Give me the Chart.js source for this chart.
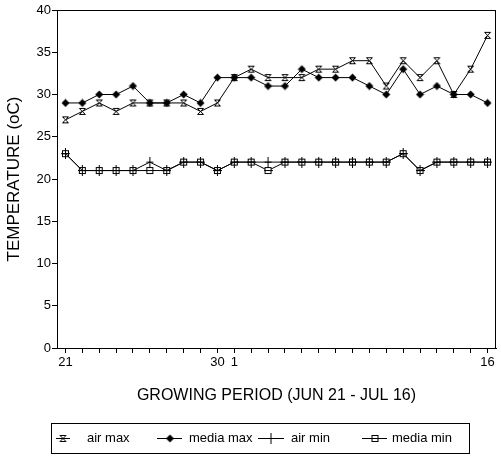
<!DOCTYPE html>
<html>
<head>
<meta charset="utf-8">
<script src="https://cdn.jsdelivr.net/npm/chart.js@4/dist/chart.umd.min.js"></script>
<style>
  html, body { margin: 0; padding: 0; background: #fff; }
  #wrap { position: relative; width: 501px; height: 457px; }
</style>
</head>
<body>
<div id="wrap"><canvas id="chart"></canvas></div>
<script>
// growing period Jun 21 - Jul 16
const days = ['21','22','23','24','25','26','27','28','29','30',
  '1','2','3','4','5','6','7','8','9','10','11','12','13','14','15','16'];
const shownDays = [0, 9, 10, 25];

const airMax   = [27,28,29,28,29,29,29,29,28,29,32,33,32,32,32,33,33,34,34,31,34,32,34,30,33,37];
const mediaMax = [29,29,30,30,31,29,29,30,29,32,32,32,31,31,33,32,32,32,31,30,33,30,31,30,30,29];
const airMin   = [23,21,21,21,21,22,21,22,22,21,22,22,22,22,22,22,22,22,22,22,23,21,22,22,22,22];
const mediaMin = [23,21,21,21,21,21,21,22,22,21,22,22,21,22,22,22,22,22,22,22,23,21,22,22,22,22];

const yTicks = [0, 5, 10, 15, 20, 25, 30, 35, 40];

const FONT = "'Liberation Sans', Arial, sans-serif";

function marker(w, h, draw) {
  const c = document.createElement('canvas');
  c.width = w; c.height = h;
  const g = c.getContext('2d');
  g.strokeStyle = '#000';
  g.fillStyle = '#000';
  g.lineWidth = 1;
  draw(g);
  return c;
}

// hourglass
const mkAirMax = marker(9, 9, g => {
  g.beginPath();
  g.moveTo(1.5, 1.5); g.lineTo(7.5, 1.5);
  g.lineTo(1.5, 7.5); g.lineTo(7.5, 7.5);
  g.closePath();
  g.stroke();
});
// filled diamond
const mkMediaMax = marker(9, 9, g => {
  g.beginPath();
  g.moveTo(4.5, 0.5); g.lineTo(8.5, 4.5);
  g.lineTo(4.5, 8.5); g.lineTo(0.5, 4.5);
  g.closePath();
  g.fill();
});
// plus with long vertical
const mkAirMin = marker(9, 11, g => {
  g.beginPath();
  g.moveTo(4.5, 0); g.lineTo(4.5, 11);
  g.moveTo(1, 5.5); g.lineTo(8, 5.5);
  g.stroke();
});
// open square with line through
const mkMediaMin = marker(9, 9, g => {
  g.fillStyle = '#fff';
  g.fillRect(1.5, 1.5, 6, 6);
  g.strokeRect(1.5, 1.5, 6, 6);
  g.beginPath();
  g.moveTo(0, 4.5); g.lineTo(9, 4.5);
  g.stroke();
});

function series(label, data, style) {
  return {
    label: label,
    data: data,
    borderColor: '#000',
    borderWidth: 1,
    backgroundColor: '#000',
    pointStyle: style,
    pointRadius: 4,
    tension: 0,
    fill: false
  };
}

const legendItems = [
  { text: 'air max',   style: mkAirMax,   x1: 56,  x2: 70,  tx: 87 },
  { text: 'media max', style: mkMediaMax, x1: 157, x2: 182, tx: 189 },
  { text: 'air min',   style: mkAirMin,   x1: 258, x2: 284, tx: 291 },
  { text: 'media min', style: mkMediaMin, x1: 362, x2: 387, tx: 392 }
];

const boxAndLegend = {
  id: 'boxAndLegend',
  afterDraw(chart) {
    const ctx = chart.ctx;
    const a = chart.chartArea;
    ctx.save();
    ctx.strokeStyle = '#000';
    ctx.lineWidth = 1;
    ctx.strokeRect(Math.round(a.left) + 0.5, Math.round(a.top) + 0.5,
      Math.round(a.right - a.left) - 1, Math.round(a.bottom - a.top));

    // legend box
    ctx.strokeRect(51.5, 423.5, 418, 30);
    const ly = 438;
    ctx.font = '13px ' + FONT;
    ctx.fillStyle = '#000';
    ctx.textBaseline = 'middle';
    legendItems.forEach(it => {
      ctx.beginPath();
      ctx.moveTo(it.x1, ly + 0.5);
      ctx.lineTo(it.x2, ly + 0.5);
      ctx.stroke();
      const cx = Math.round((it.x1 + it.x2) / 2);
      ctx.drawImage(it.style, cx - it.style.width / 2, ly + 0.5 - it.style.height / 2);
      ctx.fillText(it.text, it.tx, ly);
    });
    ctx.restore();
  }
};

new Chart(document.getElementById('chart'), {
  type: 'line',
  data: {
    labels: days,
    datasets: [
      series('air max', airMax, mkAirMax),
      series('media max', mediaMax, mkMediaMax),
      series('air min', airMin, mkAirMin),
      series('media min', mediaMin, mkMediaMin)
    ]
  },
  options: {
    responsive: true,
    maintainAspectRatio: false,
    animation: false,
    layout: { padding: { left: 0, right: 2, top: 10, bottom: 48 } },
    plugins: {
      legend: { display: false },
      tooltip: { enabled: false }
    },
    scales: {
      x: {
        type: 'category',
        offset: true,
        grid: {
          display: true,
          drawOnChartArea: false,
          drawTicks: true,
          tickLength: 5,
          tickColor: '#000',
          offset: false
        },
        border: { display: true, color: '#000', width: 1 },
        ticks: {
          autoSkip: false,
          maxRotation: 0,
          padding: 2,
          color: '#000',
          font: { family: FONT, size: 13 },
          callback: (v, i) => shownDays.includes(i) ? days[i] : ''
        },
        title: {
          display: true,
          text: 'GROWING PERIOD (JUN 21 - JUL 16)',
          color: '#000',
          font: { family: FONT, size: 16 },
          padding: { top: 4, bottom: 4 }
        },
        afterFit: s => { s.height = 61; }
      },
      y: {
        min: 0,
        max: 40,
        grid: {
          display: true,
          drawOnChartArea: false,
          drawTicks: true,
          tickLength: 5,
          tickColor: '#000'
        },
        border: { display: true, color: '#000', width: 1 },
        afterBuildTicks: s => { s.ticks = yTicks.map(v => ({ value: v })); },
        ticks: {
          padding: 1,
          color: '#000',
          font: { family: FONT, size: 13 }
        },
        title: {
          display: true,
          text: 'TEMPERATURE (oC)',
          color: '#000',
          font: { family: FONT, size: 17 },
          padding: { top: 4, bottom: 4 }
        },
        afterFit: s => { s.width = 57; }
      }
    }
  },
  plugins: [boxAndLegend]
});
</script>
</body>
</html>
